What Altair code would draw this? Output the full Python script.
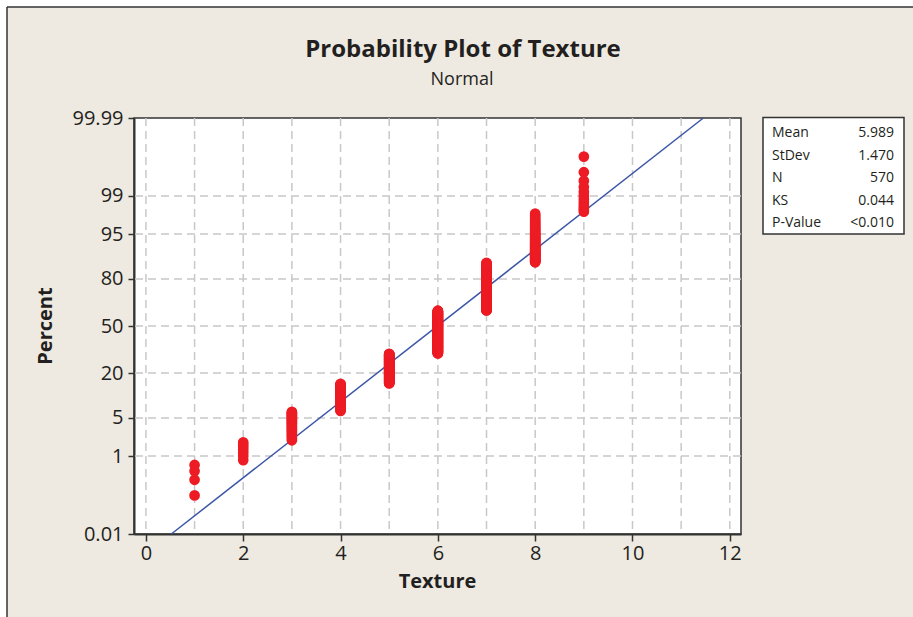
import altair as alt
import pandas as pd
from statistics import NormalDist

# Texture scores and how many observations fall on each score
texture_values = [1, 2, 3, 4, 5, 6, 7, 8, 9]
texture_counts = [4, 7, 25, 50, 91, 170, 150, 61, 12]

# Fitted normal parameters and goodness-of-fit summary
MEAN = 5.989
STDEV = 1.470
KS = "0.044"
P_VALUE = "<0.010"

# Axis ticks
percent_ticks = [0.01, 1, 5, 20, 50, 80, 95, 99, 99.99]
percent_labels = ["0.01", "1", "5", "20", "50", "80", "95", "99", "99.99"]
percent_grid = [1, 5, 20, 50, 80, 95, 99]
x_ticks = [0, 2, 4, 6, 8, 10, 12]
x_grid = list(range(0, 13))

# Styling
FONT = "Open Sans"
TEXT = "#231F20"
DARK = "#333333"
GRID = "#C8C8C8"
BEIGE = "#EEEAE1"
RED = "#ED1C24"
BLUE = "#3A55A5"

W, H = 607, 416
PAD_L, PAD_T, PAD_R, PAD_B = 134, 118, 172, 83

nd = NormalDist()
Z_LO = nd.inv_cdf(0.0001)
Z_HI = nd.inv_cdf(0.9999)

# Normal probability plot positions (median ranks, ties kept as separate ranks)
obs = sorted(v for v, c in zip(texture_values, texture_counts) for _ in range(c))
n = len(obs)
points = pd.DataFrame({
    "Texture": obs,
    "z": [nd.inv_cdf((i - 0.3) / (n + 0.4)) for i in range(1, n + 1)],
})

fit = pd.DataFrame({"z": [Z_LO, Z_HI]})
fit["Texture"] = MEAN + STDEV * fit["z"]

x_scale = alt.Scale(domain=[-0.245, 12.23], nice=False, zero=False)
y_scale = alt.Scale(domain=[Z_LO, Z_HI], nice=False, zero=False)

z_ticks = [nd.inv_cdf(p / 100) for p in percent_ticks]
label_expr = "''"
for zt, lab in reversed(list(zip(z_ticks, percent_labels))):
    label_expr = f"abs(datum.value - ({zt:.6f})) < 0.001 ? '{lab}' : " + label_expr

x_axis = alt.Axis(values=x_ticks, grid=False, title=None, tickSize=7, tickWidth=1.5,
                  tickColor=DARK, domainColor=DARK, domainWidth=2,
                  labelFont=FONT, labelFontSize=20, labelColor=TEXT, labelPadding=2)
y_axis = alt.Axis(values=z_ticks, labelExpr=label_expr, grid=False, title=None,
                  tickSize=6, tickWidth=1.5, tickColor=DARK, domainColor=DARK,
                  domainWidth=2, labelFont=FONT, labelFontSize=20, labelColor=TEXT,
                  labelPadding=5)

one = pd.DataFrame({"k": [0]})


def box(x1, x2, y1, y2, **kw):
    return alt.Chart(one).mark_rect(**kw).encode(
        x=alt.value(x1), x2=alt.value(x2), y=alt.value(y1), y2=alt.value(y2))


def rule(x1, x2, y1, y2, **kw):
    return alt.Chart(one).mark_rule(**kw).encode(
        x=alt.value(x1), x2=alt.value(x2), y=alt.value(y1), y2=alt.value(y2))


def label(txt, x, y, **kw):
    return alt.Chart(pd.DataFrame({"t": [txt]})).mark_text(font=FONT, color=TEXT, **kw).encode(
        text="t:N", x=alt.value(x), y=alt.value(y))


layers = []

# White margin outside the graph frame, and the frame edges
layers.append(box(-PAD_L, W + PAD_R, -PAD_T, -PAD_T + 7, color="white"))
layers.append(box(-PAD_L, -PAD_L + 7, -PAD_T, H + PAD_B, color="white"))
layers.append(rule(-PAD_L + 7, W + PAD_R, -PAD_T + 7, -PAD_T + 7, color=DARK, strokeWidth=1.5))
layers.append(rule(-PAD_L + 7, -PAD_L + 7, -PAD_T + 7, H + PAD_B, color=DARK, strokeWidth=1.5))

# Dashed reference grid
layers.append(
    alt.Chart(pd.DataFrame({"g": x_grid})).mark_rule(
        color=GRID, strokeDash=[8, 5], strokeWidth=1.5
    ).encode(x=alt.X("g:Q", scale=x_scale, axis=x_axis))
)
layers.append(
    alt.Chart(pd.DataFrame({"g": [nd.inv_cdf(p / 100) for p in percent_grid]})).mark_rule(
        color=GRID, strokeDash=[8, 5], strokeWidth=1.5
    ).encode(y=alt.Y("g:Q", scale=y_scale, axis=y_axis))
)

# Fitted normal line
layers.append(
    alt.Chart(fit).mark_line(color=BLUE, strokeWidth=1.5).encode(
        x=alt.X("Texture:Q", scale=x_scale, axis=x_axis),
        y=alt.Y("z:Q", scale=y_scale, axis=y_axis),
    )
)

# Observations
layers.append(
    alt.Chart(points).mark_circle(color=RED, size=115, opacity=1).encode(
        x=alt.X("Texture:Q", scale=x_scale, axis=x_axis),
        y=alt.Y("z:Q", scale=y_scale, axis=y_axis),
    )
)

# Titles
layers.append(label("Probability Plot of Texture", 463 - PAD_L, 57 - PAD_T,
                    fontSize=24, fontWeight="bold", align="center", baseline="alphabetic"))
layers.append(label("Normal", 462 - PAD_L, 85 - PAD_T,
                    fontSize=18, align="center", baseline="alphabetic"))
layers.append(label("Texture", W / 2, 588 - PAD_T,
                    fontSize=20, fontWeight="bold", align="center", baseline="alphabetic"))
layers.append(label("Percent", 52 - PAD_L, H / 2,
                    fontSize=20, fontWeight="bold", align="center", baseline="alphabetic", angle=270))

# Summary table
stat_names = ["Mean", "StDev", "N", "KS", "P-Value"]
stat_values = [f"{MEAN:.3f}", f"{STDEV:.3f}", str(n), KS, P_VALUE]
bx0, bx1, by0, by1 = 763 - PAD_L, 904 - PAD_L, 117.5 - PAD_T, 234 - PAD_T
layers.append(box(bx0, bx1, by0, by1, fill="white", stroke=DARK, strokeWidth=1.5))
for i, (nm, val) in enumerate(zip(stat_names, stat_values)):
    yb = 137 - PAD_T + 22.5 * i
    layers.append(label(nm, bx0 + 9, yb, fontSize=14, align="left", baseline="alphabetic"))
    layers.append(label(val, bx1 - 10, yb, fontSize=14, align="right", baseline="alphabetic"))

chart = alt.layer(*layers).properties(
    width=W,
    height=H,
    autosize=alt.AutoSizeParams(type="none"),
    padding={"left": PAD_L, "top": PAD_T, "right": PAD_R, "bottom": PAD_B},
    background=BEIGE,
).configure_view(fill="white", stroke=DARK, strokeWidth=1.5)

chart.save("out.html", embed_options={"renderer": "svg", "actions": False})
